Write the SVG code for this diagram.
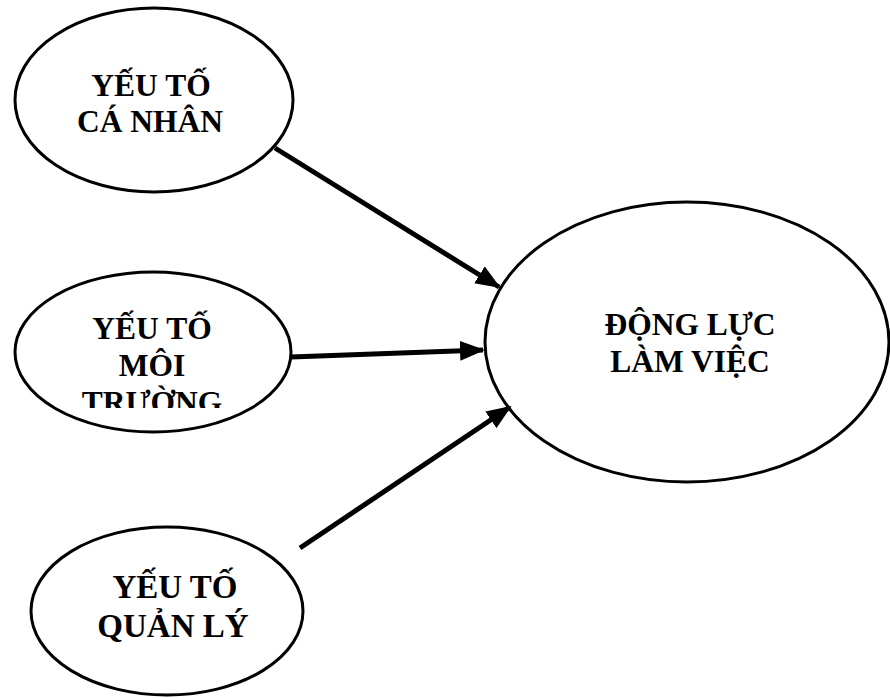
<svg xmlns="http://www.w3.org/2000/svg" width="890" height="698" viewBox="0 0 890 698">
<style>
.node ellipse{fill:#fff;stroke:#000;stroke-width:3}
.node text{font-family:"Liberation Serif","Times New Roman",serif;font-weight:bold;font-size:31.5px;fill:#000;text-anchor:middle}
.c line{stroke:#000;stroke-width:5}
</style>
<defs>
<marker id="ah" markerWidth="5" markerHeight="4" refX="4.6" refY="2" orient="auto" markerUnits="strokeWidth">
<path d="M0,0 L5,2 L0,4 Z" fill="#000"/>
</marker>
<clipPath id="clip2"><rect x="0" y="300" width="300" height="108"/></clipPath>
</defs>
<rect width="890" height="698" fill="#fff"/>
<g id="canhan" class="node">
<ellipse cx="154" cy="100" rx="139" ry="92"/>
<text x="151" y="96">YẾU TỐ</text>
<text x="150" y="132">CÁ NHÂN</text>
</g>
<g id="moitruong" class="node">
<ellipse cx="153" cy="352" rx="138" ry="80"/>
<g clip-path="url(#clip2)">
<text x="152" y="339">YẾU TỐ</text>
<text x="152" y="376">MÔI</text>
<text x="152" y="413">TRƯỜNG</text>
</g>
</g>
<g id="quanly" class="node">
<ellipse cx="167" cy="611" rx="136" ry="84"/>
<text x="175" y="598" style="font-size:33px">YẾU TỐ</text>
<text x="173" y="637" style="font-size:33px">QUẢN LÝ</text>
</g>
<g id="dongluc" class="node">
<ellipse cx="687" cy="342" rx="202" ry="140"/>
<text x="690" y="335">ĐỘNG LỰC</text>
<text x="690" y="372">LÀM VIỆC</text>
</g>
<g id="connectors" class="c">
<line x1="275" y1="148" x2="499" y2="287" marker-end="url(#ah)"/>
<line x1="291" y1="357" x2="483" y2="350" marker-end="url(#ah)"/>
<line x1="300" y1="548" x2="510" y2="407" marker-end="url(#ah)"/>
</g>
</svg>
